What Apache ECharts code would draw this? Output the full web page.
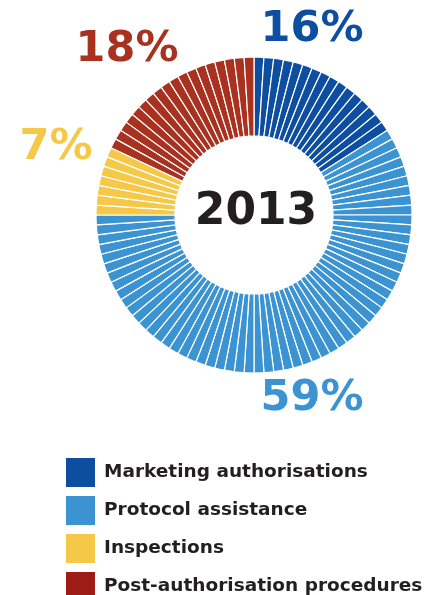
<!DOCTYPE html>
<html>
<head>
<meta charset="utf-8">
<script src="https://cdn.jsdelivr.net/npm/echarts@6/dist/echarts.min.js"></script>
<style>
  html, body { margin: 0; padding: 0; background: #fff; }
  #chart { width: 424px; height: 595px; }
</style>
</head>
<body>
<div id="chart"></div>
<script>
// Share of activity by type, 2013 (percent)
const categories = ['Marketing authorisations', 'Protocol assistance', 'Inspections', 'Post-authorisation procedures'];
const shares = [16, 59, 7, 18];
const year = '2013';

// Ring colours and slightly deeper legend swatches
const ringColors = ['#0d4ea1', '#3c93d1', '#f5c847', '#a8311f'];
const legendColors = ['#0d4ea1', '#3c93d1', '#f5c847', '#9d1c14'];

// Each percentage point is drawn as its own segment of the ring
const ringData = [];
categories.forEach((name, i) => {
  for (let k = 0; k < shares[i]; k++) {
    ringData.push({ name: name, value: 1, itemStyle: { color: ringColors[i] } });
  }
});

// Percentage callouts placed around the ring
const calloutPos = [[312, 30], [312, 399], [56, 148], [127, 50]];
const labelFont = 'DejaVu Sans, Verdana, sans-serif';

const graphics = categories.map((name, i) => ({
  type: 'text',
  x: calloutPos[i][0],
  y: calloutPos[i][1],
  style: {
    text: shares[i] + '%',
    fill: ringColors[i],
    font: 'bold 43px ' + labelFont,
    textAlign: 'center',
    textVerticalAlign: 'middle'
  }
}));
graphics.push({
  type: 'text',
  x: 256,
  y: 213,
  style: {
    text: year,
    fill: '#231f20',
    font: 'bold 44px ' + labelFont,
    textAlign: 'center',
    textVerticalAlign: 'middle'
  }
});

const chart = echarts.init(document.getElementById('chart'), null, { renderer: 'canvas' });
chart.setOption({
  animation: false,
  backgroundColor: '#ffffff',
  legend: {
    orient: 'vertical',
    left: 64,
    top: 456,
    height: 160,
    padding: 0,
    itemWidth: 31,
    itemHeight: 31,
    itemGap: 5,
    icon: 'rect',
    selectedMode: false,
    data: categories.map((name, i) => ({ name: name, itemStyle: { color: legendColors[i] } })),
    textStyle: {
      fontFamily: labelFont,
      fontWeight: 'bold',
      fontSize: 18.5,
      color: '#231f20',
      padding: [0, 0, 0, 3]
    }
  },
  series: [{
    type: 'pie',
    center: [254, 215],
    radius: [79, 158],
    startAngle: 90,
    clockwise: true,
    avoidLabelOverlap: false,
    label: { show: false },
    labelLine: { show: false },
    emphasis: { disabled: true },
    silent: true,
    itemStyle: { borderColor: '#ffffff', borderWidth: 1.2 },
    data: ringData
  }],
  graphic: graphics
});
</script>
</body>
</html>
